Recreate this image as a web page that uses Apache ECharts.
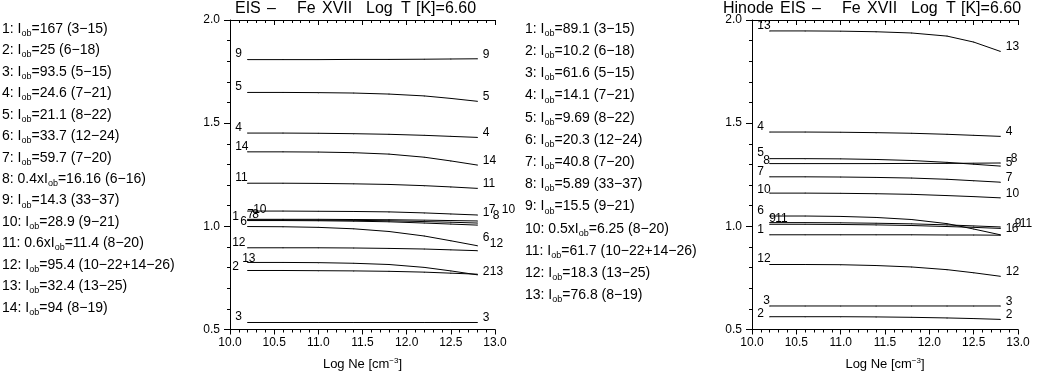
<!DOCTYPE html>
<html>
<head>
<meta charset="utf-8">
<script src="https://cdn.jsdelivr.net/npm/echarts@6/dist/echarts.min.js"></script>
<style>
  html, body { margin: 0; padding: 0; background: #fff; }
  #main { width: 1042px; height: 376px; }
</style>
</head>
<body>
<div id="main"></div>
<script>
// density grid shared by both panels
const logNe = [10.2, 10.6, 11.0, 11.4, 11.8, 12.2, 12.5, 12.8];

// EIS panel
const eisNames = ['1', '2', '3', '4', '5', '6', '7', '8', '9', '10', '11', '12', '13', '14'];
const eisRatios = [
  [1.034, 1.034, 1.034, 1.033, 1.032, 1.030, 1.028, 1.026],
  [0.786, 0.786, 0.785, 0.784, 0.782, 0.778, 0.773, 0.768],
  [0.534, 0.534, 0.534, 0.534, 0.534, 0.534, 0.534, 0.534],
  [1.452, 1.452, 1.451, 1.449, 1.446, 1.441, 1.436, 1.431],
  [1.649, 1.649, 1.648, 1.646, 1.641, 1.632, 1.620, 1.606],
  [0.999, 0.998, 0.995, 0.988, 0.975, 0.953, 0.930, 0.906],
  [1.031, 1.031, 1.030, 1.029, 1.027, 1.023, 1.020, 1.016],
  [1.028, 1.028, 1.027, 1.025, 1.022, 1.016, 1.011, 1.006],
  [1.808, 1.808, 1.808, 1.809, 1.809, 1.810, 1.811, 1.812],
  [1.074, 1.074, 1.073, 1.072, 1.070, 1.065, 1.060, 1.055],
  [1.209, 1.209, 1.208, 1.206, 1.203, 1.197, 1.191, 1.184],
  [0.896, 0.896, 0.896, 0.895, 0.893, 0.890, 0.886, 0.882],
  [0.825, 0.825, 0.824, 0.821, 0.815, 0.801, 0.784, 0.765],
  [1.361, 1.361, 1.360, 1.357, 1.350, 1.335, 1.317, 1.297]
];
const eisLegend = [
  ['1: ', '=167 (3\u221215)'],
  ['2: ', '=25 (6\u221218)'],
  ['3: ', '=93.5 (5\u221215)'],
  ['4: ', '=24.6 (7\u221221)'],
  ['5: ', '=21.1 (8\u221222)'],
  ['6: ', '=33.7 (12\u221224)'],
  ['7: ', '=59.7 (7\u221220)'],
  ['8: 0.4x', '=16.16 (6\u221216)'],
  ['9: ', '=14.3 (33\u221237)'],
  ['10: ', '=28.9 (9\u221221)'],
  ['11: 0.6x', '=11.4 (8\u221220)'],
  ['12: ', '=95.4 (10\u221222+14\u221226)'],
  ['13: ', '=32.4 (13\u221225)'],
  ['14: ', '=94 (8\u221219)']
];

// Hinode EIS panel
const hinNames = ['1', '2', '3', '4', '5', '6', '7', '8', '9', '10', '11', '12', '13'];
const hinRatios = [
  [0.959, 0.959, 0.959, 0.959, 0.959, 0.958, 0.958, 0.957],
  [0.562, 0.562, 0.562, 0.561, 0.559, 0.556, 0.553, 0.549],
  [0.614, 0.614, 0.614, 0.614, 0.614, 0.614, 0.614, 0.614],
  [1.457, 1.457, 1.456, 1.454, 1.451, 1.446, 1.441, 1.436],
  [1.328, 1.328, 1.327, 1.324, 1.319, 1.310, 1.301, 1.292],
  [1.050, 1.050, 1.048, 1.043, 1.033, 1.013, 0.987, 0.959],
  [1.240, 1.240, 1.239, 1.237, 1.234, 1.228, 1.221, 1.214],
  [1.304, 1.304, 1.304, 1.304, 1.305, 1.305, 1.306, 1.307],
  [1.018, 1.018, 1.017, 1.015, 1.012, 1.007, 1.002, 0.997],
  [1.161, 1.161, 1.160, 1.158, 1.155, 1.149, 1.144, 1.138],
  [1.010, 1.010, 1.009, 1.007, 1.004, 0.999, 0.995, 0.990],
  [0.815, 0.815, 0.814, 0.810, 0.803, 0.790, 0.775, 0.758],
  [1.947, 1.947, 1.946, 1.943, 1.937, 1.922, 1.893, 1.848]
];
const hinLegend = [
  ['1: ', '=89.1 (3\u221215)'],
  ['2: ', '=10.2 (6\u221218)'],
  ['3: ', '=61.6 (5\u221215)'],
  ['4: ', '=14.1 (7\u221221)'],
  ['5: ', '=9.69 (8\u221222)'],
  ['6: ', '=20.3 (12\u221224)'],
  ['7: ', '=40.8 (7\u221220)'],
  ['8: ', '=5.89 (33\u221237)'],
  ['9: ', '=15.5 (9\u221221)'],
  ['10: 0.5x', '=6.25 (8\u221220)'],
  ['11: ', '=61.7 (10\u221222+14\u221226)'],
  ['12: ', '=18.3 (13\u221225)'],
  ['13: ', '=76.8 (8\u221219)']
];

// title pieces and their left edges (IDL spreads the words out)
const titleWords = ['EIS', '\u2013', 'Fe', 'XVII', 'Log', 'T', '[K]=6.60'];
const titleX = [235, 267, 297, 322, 366, 401, 416];

// label nudges (px) where the curve numbers crowd together
const eisStartNudge = { '1': [-3, 3], '6': [5, 1], '7': [12, 0], '8': [17, 0], '10': [18, 4], '13': [7, 2], '2': [-3, 2], '12': [-3, 0] };
const eisEndNudge = { '1': [0, -4], '7': [6, -9], '8': [10, -5], '10': [19, -1], '6': [0, -4], '12': [7, -2], '2': [0, 2], '13': [7, 1] };
const hinStartNudge = { '8': [6, 3], '10': [0, 2], '9': [12, 2], '11': [18, 0], '3': [6, 0], '2': [0, 2] };
const hinEndNudge = { '5': [0, 1], '8': [5, 0], '1': [0, -2], '6': [6, -2], '9': [9, 1], '11': [14, 0] };

const FONT = 'Liberation Sans';

function makeSeries(names, ratios, startNudge, endNudge, axisIdx) {
  return names.map((nm, k) => ({
    type: 'line',
    name: nm,
    xAxisIndex: axisIdx * 2,
    yAxisIndex: axisIdx,
    symbol: 'circle',
    symbolSize: 1,
    showSymbol: true,
    lineStyle: { color: '#000', width: 1 },
    itemStyle: { color: '#000' },
    silent: true,
    data: logNe.map((x, i) => {
      const item = { value: [x, ratios[k][i]] };
      const last = i === logNe.length - 1;
      if (i === 0 || last) {
        const n = (last ? endNudge[nm] : startNudge[nm]) || [0, 0];
        const base = last ? [6, -4] : [-12, -5];
        item.label = {
          show: true,
          formatter: nm,
          position: [base[0] + n[0], base[1] + n[1]],
          align: 'left',
          verticalAlign: 'middle',
          color: '#000',
          fontFamily: FONT,
          fontSize: 12
        };
      }
      return item;
    })
  }));
}

function legendText(rows, x, y0, dy) {
  return rows.map((r, i) => ({
    type: 'text',
    x: x,
    y: y0 + i * dy,
    silent: true,
    style: {
      text: '{t|' + r[0] + 'I}{s|ob}{t|' + r[1] + '}',
      verticalAlign: 'middle',
      fill: '#000',
      rich: {
        t: { fontFamily: FONT, fontSize: 14, lineHeight: 18, color: '#000' },
        s: { fontFamily: FONT, fontSize: 9, lineHeight: 10, verticalAlign: 'bottom', color: '#000' }
      }
    }
  }));
}

function titleText(prefix, x0, shift) {
  const els = [];
  if (prefix) {
    els.push({ type: 'text', x: x0, y: 9, silent: true,
      style: { text: prefix, fontFamily: FONT, fontSize: 16, fill: '#000', verticalAlign: 'middle' } });
  }
  titleWords.forEach((w, i) => {
    els.push({ type: 'text', x: titleX[i] + shift, y: 9, silent: true,
      style: { text: w, fontFamily: FONT, fontSize: 16, fill: '#000', verticalAlign: 'middle' } });
  });
  return els;
}

function xBottom(gi) {
  return {
    type: 'value', gridIndex: gi, position: 'bottom',
    min: 10, max: 13, interval: 0.5,
    name: '{t|Log Ne [cm}{p|\u22123}{t|]}',
    nameLocation: 'middle', nameGap: 27,
    nameTextStyle: {
      rich: {
        t: { fontFamily: FONT, fontSize: 13, lineHeight: 16, color: '#000' },
        p: { fontFamily: FONT, fontSize: 8, lineHeight: 10, verticalAlign: 'top', color: '#000' }
      }
    },
    axisLine: { onZero: false, lineStyle: { color: '#000', width: 1 } },
    axisTick: { inside: false, length: 5, lineStyle: { color: '#000' } },
    minorTick: { show: true, splitNumber: 5, length: 3, lineStyle: { color: '#000' } },
    axisLabel: { margin: 7, color: '#000', fontFamily: FONT, fontSize: 12, formatter: v => v.toFixed(1) },
    splitLine: { show: false }
  };
}
function xTop(gi) {
  return {
    type: 'value', gridIndex: gi, position: 'top',
    min: 10, max: 13, interval: 0.5,
    axisLine: { onZero: false, lineStyle: { color: '#000', width: 1 } },
    axisTick: { inside: true, length: 5, lineStyle: { color: '#000' } },
    minorTick: { show: true, splitNumber: 5, length: 3, lineStyle: { color: '#000' } },
    axisLabel: { show: false },
    splitLine: { show: false }
  };
}
function yLeft(gi) {
  return {
    type: 'value', gridIndex: gi,
    min: 0.5, max: 2.0, interval: 0.5,
    axisLine: { show: true, onZero: false, lineStyle: { color: '#000', width: 1 } },
    axisTick: { show: true, inside: false, length: 6, lineStyle: { color: '#000' } },
    minorTick: { show: true, splitNumber: 5, length: 3, lineStyle: { color: '#000' } },
    axisLabel: { margin: 10, color: '#000', fontFamily: FONT, fontSize: 12, formatter: v => v.toFixed(1) },
    splitLine: { show: false }
  };
}

const chart = echarts.init(document.getElementById('main'), null, { renderer: 'canvas' });
chart.setOption({
  animation: false,
  backgroundColor: '#fff',
  grid: [
    { left: 230, top: 20, width: 265, height: 313 },
    { left: 752, top: 20, width: 266, height: 313 }
  ],
  xAxis: [xBottom(0), xTop(0), xBottom(1), xTop(1)],
  yAxis: [yLeft(0), yLeft(1)],
  series: [
    ...makeSeries(eisNames, eisRatios, eisStartNudge, eisEndNudge, 0),
    ...makeSeries(hinNames, hinRatios, hinStartNudge, hinEndNudge, 1)
  ],
  graphic: [
    ...legendText(eisLegend, 2, 29, 21.45),
    ...legendText(hinLegend, 525, 29, 22.2),
    ...titleText(null, 0, 0),
    ...titleText('Hinode', 723, 545)
  ]
});
</script>
</body>
</html>
